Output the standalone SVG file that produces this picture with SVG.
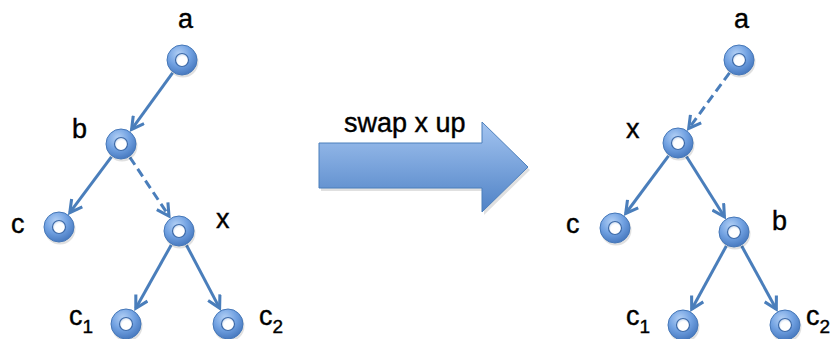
<svg xmlns="http://www.w3.org/2000/svg" width="837" height="339" viewBox="0 0 837 339">
<style>
.lbl{font-family:"Liberation Sans",Arial,sans-serif;font-size:27px;fill:#000;stroke:#000;stroke-width:0.4}
.sub{font-size:19px}
.edge{stroke:#4a7ebb;stroke-width:3;fill:none;marker-end:url(#ah)}
.dash{stroke-dasharray:9 5}
</style>
<defs>
<marker id="ah" markerUnits="userSpaceOnUse" markerWidth="16" markerHeight="16" viewBox="0 0 12 12" refX="10" refY="6" orient="auto">
<path d="M1,1 L10,6 L1,11" fill="none" stroke="#4a7ebb" stroke-width="2.3" stroke-linejoin="miter"/>
</marker>
<radialGradient id="ng" cx="0.4" cy="0.3" r="0.75">
<stop offset="0" stop-color="#b3d0f5"/>
<stop offset="0.5" stop-color="#72a2e2"/>
<stop offset="1" stop-color="#4274bb"/>
</radialGradient>
<radialGradient id="hole" cx="0.55" cy="0.6" r="0.6">
<stop offset="0.6" stop-color="#ffffff"/>
<stop offset="1" stop-color="#c9d9ef"/>
</radialGradient>
<linearGradient id="ag" x1="0" y1="0" x2="0" y2="1">
<stop offset="0" stop-color="#a3c4f0"/>
<stop offset="1" stop-color="#4f82c6"/>
</linearGradient>
<g id="node">
<circle cx="1" cy="2" r="15.5" fill="#000" opacity="0.12"/>
<circle r="15" fill="url(#ng)" stroke="#4577b8" stroke-width="1"/>
<circle r="6.5" fill="url(#hole)" stroke="#3d6aa8" stroke-width="1.2"/>
</g>
</defs>

<g id="connectors">
<line class="edge" x1="172.6" y1="72.9" x2="131.6" y2="129.4"/>
<line class="edge" x1="111.4" y1="156.8" x2="69.8" y2="212.6"/>
<line class="edge dash" x1="129.9" y1="157.3" x2="169.0" y2="216.0"/>
<line class="edge" x1="171.2" y1="245.0" x2="135.8" y2="308.3"/>
<line class="edge" x1="186.5" y1="245.2" x2="219.6" y2="308.1"/>
<line class="edge dash" x1="729.5" y1="72.9" x2="688.7" y2="128.5"/>
<line class="edge" x1="668.5" y1="155.8" x2="625.7" y2="213.5"/>
<line class="edge" x1="686.5" y1="156.5" x2="724.4" y2="216.8"/>
<line class="edge" x1="726.3" y1="246.0" x2="691.7" y2="309.2"/>
<line class="edge" x1="741.7" y1="246.0" x2="776.3" y2="309.2"/>
</g>

<g id="big-arrow">
<polygon points="321,146 484,146 484,125 530,170 484,215 484,191 321,191" fill="#000" opacity="0.12"/>
<polygon points="319,143 482,143 482,122 528,167 482,212 482,188 319,188" fill="url(#ag)" stroke="#4a7ebb" stroke-width="1"/>
<text class="lbl" x="344" y="132">swap x up</text>
</g>

<g id="L-a"><use href="#node" x="182" y="60"/><text class="lbl" x="178" y="28">a</text></g>
<g id="L-b"><use href="#node" x="121" y="144"/><text class="lbl" x="72" y="138">b</text></g>
<g id="L-c"><use href="#node" x="59" y="227"/><text class="lbl" x="11" y="233">c</text></g>
<g id="L-x"><use href="#node" x="179" y="231"/><text class="lbl" x="216" y="228">x</text></g>
<g id="L-c1"><use href="#node" x="126" y="324"/><text class="lbl" x="69" y="325">c<tspan class="sub" dy="8">1</tspan></text></g>
<g id="L-c2"><use href="#node" x="228" y="324"/><text class="lbl" x="259" y="325">c<tspan class="sub" dy="8">2</tspan></text></g>

<g id="R-a"><use href="#node" x="739" y="60"/><text class="lbl" x="734" y="28">a</text></g>
<g id="R-x"><use href="#node" x="678" y="143"/><text class="lbl" x="626" y="138">x</text></g>
<g id="R-c"><use href="#node" x="615" y="228"/><text class="lbl" x="566" y="233">c</text></g>
<g id="R-b"><use href="#node" x="734" y="232"/><text class="lbl" x="772" y="230">b</text></g>
<g id="R-c1"><use href="#node" x="683" y="325"/><text class="lbl" x="626" y="325">c<tspan class="sub" dy="8">1</tspan></text></g>
<g id="R-c2"><use href="#node" x="785" y="325"/><text class="lbl" x="806" y="325">c<tspan class="sub" dy="8">2</tspan></text></g>
</svg>
